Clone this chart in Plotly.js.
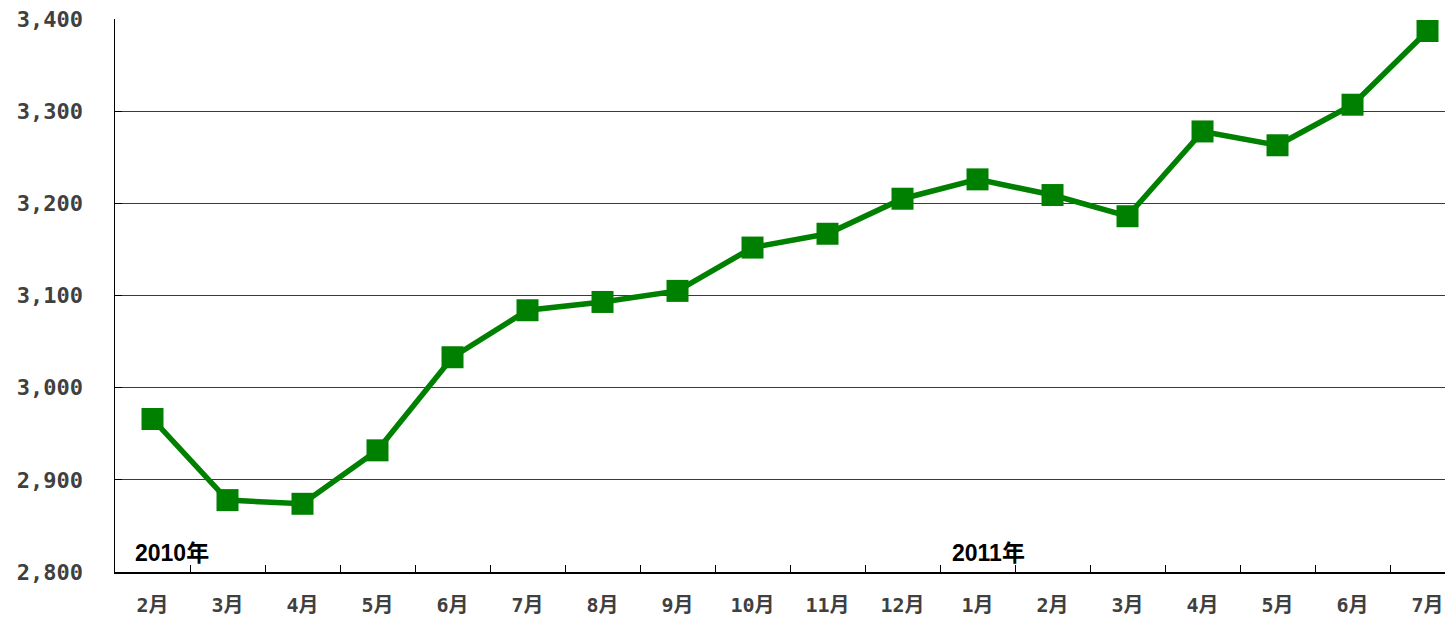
<!DOCTYPE html>
<html>
<head>
<meta charset="utf-8">
<script src="https://cdn.plot.ly/plotly-3.0.1.min.js"></script>
<style>html,body{margin:0;padding:0;background:#fff;}#chart{width:1445px;height:621px;}</style>
</head>
<body>
<div id="chart"></div>
<script>
// Data
const monthLabels = ["2月","3月","4月","5月","6月","7月","8月","9月","10月","11月","12月","1月","2月","3月","4月","5月","6月","7月"];
const values = [2966, 2878, 2874, 2932, 3033, 3084, 3093, 3105, 3152, 3167, 3205, 3226, 3209, 3186, 3278, 3263, 3307, 3387];
const yTicks = [2800, 2900, 3000, 3100, 3200, 3300, 3400];
const yearLabels = ["2010年", "2011年"];
const yearStartIndex = [0, 11];

const xIdx = monthLabels.map((_, i) => i);
const boundaries = monthLabels.slice(1).map((_, i) => i + 0.5);
const yearOffsets = [-0.26, -0.37];

const trace = {
  x: xIdx,
  y: values,
  type: 'scatter',
  mode: 'lines+markers',
  line: {color: '#008000', width: 5.5},
  marker: {symbol: 'square', size: 22, color: '#008000'},
  cliponaxis: false,
  hoverinfo: 'y'
};

const xFont = {family: '"DejaVu Sans Mono", "Noto Sans CJK JP", monospace', size: 20, color: '#404040', weight: 700};
const yFont = {family: '"DejaVu Sans Mono", "Noto Sans CJK JP", monospace', size: 22, color: '#404040', weight: 700};

const layout = {
  width: 1445,
  height: 621,
  margin: {l: 115, r: 0, t: 19, b: 49},
  paper_bgcolor: '#ffffff',
  plot_bgcolor: '#ffffff',
  showlegend: false,
  xaxis: {
    range: [-0.5, 17.233],
    tickmode: 'array',
    tickvals: xIdx,
    ticktext: monthLabels,
    ticks: '',
    showgrid: false,
    zeroline: false,
    showline: true,
    linecolor: '#000000',
    linewidth: 1.5,
    tickfont: xFont,
    ticklabelstandoff: 14,
    minor: {tickmode: 'array', tickvals: boundaries, ticks: 'inside', ticklen: 7, tickcolor: '#000000', tickwidth: 1, showgrid: false},
    fixedrange: true
  },
  yaxis: {
    range: [2800, 3400],
    tickmode: 'array',
    tickvals: yTicks,
    ticktext: yTicks.map(v => v.toLocaleString('en-US')),
    ticks: 'inside',
    ticklen: 7,
    tickcolor: '#000000',
    showgrid: true,
    gridcolor: '#3a3a3a',
    gridwidth: 1,
    zeroline: false,
    showline: true,
    linecolor: '#000000',
    linewidth: 1.5,
    tickfont: yFont,
    ticklabelstandoff: 26,
    fixedrange: true
  },
  annotations: yearLabels.map((t, k) => ({
    text: t,
    x: yearStartIndex[k] + yearOffsets[k],
    xref: 'x',
    xanchor: 'left',
    y: 0,
    yref: 'paper',
    yanchor: 'bottom',
    yshift: 4,
    showarrow: false,
    font: {family: '"Liberation Sans", "Noto Sans CJK JP", sans-serif', size: 23, color: '#000000', weight: 700}
  }))
};

Plotly.newPlot('chart', [trace], layout, {staticPlot: true, displayModeBar: false});
</script>
</body>
</html>
